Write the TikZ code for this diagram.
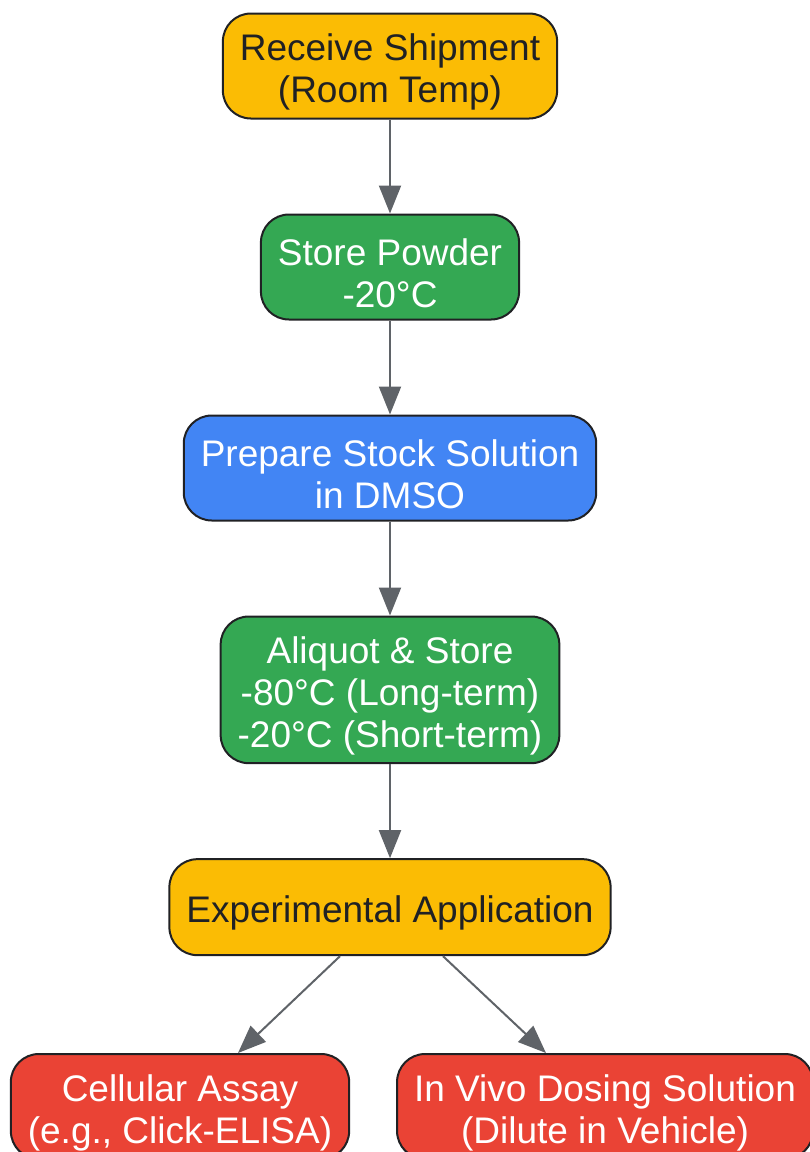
\documentclass[tikz,border=0pt]{standalone}
\usepackage{fontspec}
\setmainfont{Liberation Sans}
\usetikzlibrary{positioning,arrows.meta}

\definecolor{gyellow}{HTML}{FBBC04}
\definecolor{ggreen}{HTML}{34A853}
\definecolor{gblue}{HTML}{4285F4}
\definecolor{gred}{HTML}{EA4335}
\definecolor{darkline}{HTML}{202124}
\definecolor{arrowgray}{HTML}{5F6368}

% taller first line, so the text sits lower in its box
\newcommand{\firstline}{\rule{0pt}{39pt}}

\begin{document}
\begin{tikzpicture}[x=1pt,y=-1pt,>={Triangle[length=28pt,width=22pt]},node distance=94pt,
		box/.style={rectangle,rounded corners=28pt,draw=darkline,line width=2pt,align=center,
			font=\fontsize{37}{42}\selectfont,inner xsep=17pt,inner ysep=8pt,minimum height=105pt},
		yellow node/.style={box,fill=gyellow,text=darkline},
		green node/.style={box,fill=ggreen,text=white},
		blue node/.style={box,fill=gblue,text=white},
		red node/.style={box,fill=gred,text=white},
		every edge/.style={draw=arrowgray,line width=2pt,->}]
	\useasboundingbox (0,0) rectangle (810,1152);
	\clip (0,0) rectangle (810,1152);
	\node[yellow node] (recv) at (390,66) {\firstline Receive Shipment\\(Room Temp)};
	\node[green node] (store) [below=of recv] {\firstline Store Powder\\-20°C};
	\node[blue node] (stock) [below=of store] {\firstline Prepare Stock Solution\\in DMSO};
	\node[green node] (aliq) [below=of stock] {\firstline Aliquot \& Store\\-80°C (Long-term)\\-20°C (Short-term)};
	\node[yellow node,minimum height=96pt] (exp) [below=of aliq] {\firstline Experimental Application};
	\node[red node,anchor=north] (cell) at (180,1053) {\firstline Cellular Assay\\(e.g., Click-ELISA)};
	\node[red node,anchor=north] (vivo) at (605,1053) {\firstline In Vivo Dosing Solution\\(Dilute in Vehicle)};
	%
	% Main storage and preparation chain.
	\path
		(recv) edge (store)
		(store) edge (stock)
		(stock) edge (aliq)
		(aliq) edge (exp);
	%
	% Split into the two uses.
	\path
		([xshift=-50pt]exp.south) edge ([xshift=58pt]cell.north)
		([xshift=53pt]exp.south) edge ([xshift=-59pt]vivo.north);
\end{tikzpicture}
\end{document}
